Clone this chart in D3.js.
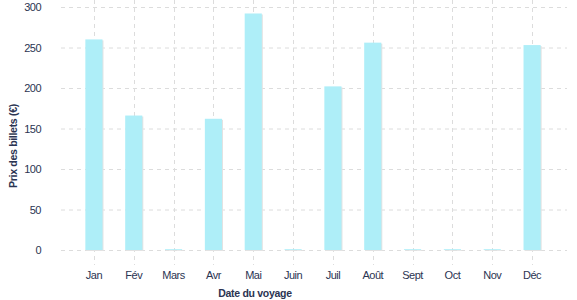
<!DOCTYPE html>
<html><head><meta charset="utf-8">
<script src="https://cdn.jsdelivr.net/npm/d3@7"></script>
<style>body{margin:0;background:#fff}svg{display:block}text{font-family:"Liberation Sans",Arial,sans-serif}</style>
</head><body><svg id="c" width="577" height="300"></svg>
<script>
const months = ["Jan","Fév","Mars","Avr","Mai","Juin","Juil","Août","Sept","Oct","Nov","Déc"];
const prices = [260,166,1,162,292,1,202,256,1,1,1,253];
const yTicks = [0,50,100,150,200,250,300];
const xTitle = "Date du voyage";
const yTitle = "Prix des billets (€)";

const svg = d3.select("#c");
const plotL = 61, plotR = 567, plotT = 7, plotB = 250;
const x = d3.scaleBand().domain(months).range([74,552]).paddingInner(0.57).paddingOuter(0.285);
const y = d3.scaleLinear().domain([0,300]).range([plotB, plotT]);
const ink = "#2b3452", grid = "#dcdcdc";

// horizontal grid
svg.append("g").selectAll("line").data(yTicks).join("line")
  .attr("x1", plotL).attr("x2", plotR)
  .attr("y1", d=>y(d)+0.5).attr("y2", d=>y(d)+0.5)
  .attr("stroke", grid).attr("stroke-width",1).attr("stroke-dasharray","4,4");
// vertical grid
svg.append("g").selectAll("line").data(months).join("line")
  .attr("x1", d=>Math.round(x(d)+x.bandwidth()/2)+0.5).attr("x2", d=>Math.round(x(d)+x.bandwidth()/2)+0.5)
  .attr("y1", 0).attr("y2", 265)
  .attr("stroke", grid).attr("stroke-width",1).attr("stroke-dasharray","4,4");

// bar shadows
svg.append("g").selectAll("rect").data(prices).join("rect")
  .attr("x", (d,i)=>x(months[i])+1).attr("width", x.bandwidth())
  .attr("y", d=>y(d)+1).attr("height", d=>Math.max(0,plotB - y(d)))
  .attr("fill","#e2e2e2");
// bars
svg.append("g").selectAll("rect").data(prices).join("rect")
  .attr("x", (d,i)=>x(months[i])).attr("width", x.bandwidth())
  .attr("y", d=>y(d)).attr("height", d=>plotB - y(d))
  .attr("fill","#aeeef8");

// y tick labels
svg.append("g").selectAll("text").data(yTicks).join("text")
  .attr("x", 41).attr("y", d=>y(d)+4)
  .attr("text-anchor","end").attr("font-size",11).attr("fill",ink)
  .style("letter-spacing","-0.5px")
  .text(d=>d);
// x tick labels
svg.append("g").selectAll("text").data(months).join("text")
  .attr("x", d=>x(d)+x.bandwidth()/2).attr("y", 279)
  .attr("text-anchor","middle").attr("font-size",11).attr("fill",ink)
  .style("letter-spacing","-0.5px")
  .text(d=>d);

svg.append("text").attr("x",255).attr("y",297).attr("text-anchor","middle")
  .attr("font-size",10.5).attr("font-weight","bold").attr("fill",ink).style("letter-spacing","-0.3px").text(xTitle);
svg.append("text").attr("transform","translate(17,146) rotate(-90)").attr("text-anchor","middle")
  .attr("font-size",10.5).attr("font-weight","bold").attr("fill",ink).style("letter-spacing","-0.3px").text(yTitle);
</script></body></html>
